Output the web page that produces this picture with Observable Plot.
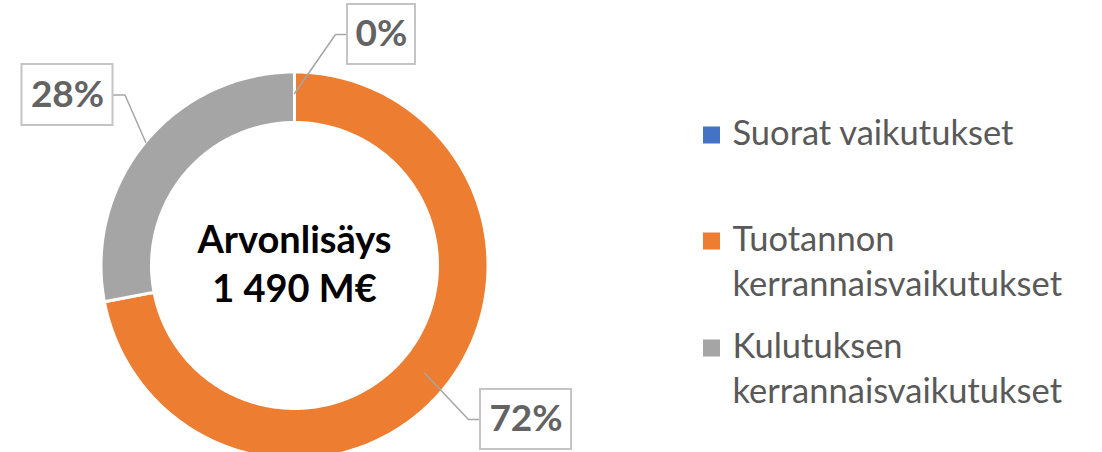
<!DOCTYPE html>
<html><head><meta charset="utf-8">
<script src="https://cdn.jsdelivr.net/npm/d3@7"></script>
<script src="https://cdn.jsdelivr.net/npm/@observablehq/plot@0.6"></script>
<style>
html,body{margin:0;padding:0;background:#fff;}
#chart{width:1102px;height:452px;overflow:hidden;}
</style></head><body><div id="chart"></div>
<script>
// ---- data ----
const categories = ["Suorat vaikutukset", "Tuotannon kerrannaisvaikutukset", "Kulutuksen kerrannaisvaikutukset"];
const legendLabels = ["Suorat vaikutukset", "Tuotannon\nkerrannaisvaikutukset", "Kulutuksen\nkerrannaisvaikutukset"];
const shares = [0, 72, 28];
const colors = ["#4472C4", "#ED7D31", "#A5A5A5"];
const centerTitle = "Arvonlisäys";
const centerValue = "1 490 M€";

// ---- layout (pixels, relative to ring centre) ----
const W = 1102, H = 452, CX = 294, CY = 265;
const R_OUT = 193.5, R_IN = 143;
const labelLayout = [
  {bx: 87, by: -231, w: 68, h: 60, r: 172, side: -1},
  {bx: 231.5, by: 154, w: 91, h: 60, r: 169, side: -1},
  {bx: -227, by: -170.5, w: 91, h: 61, r: 193, side: 1}
];
const LEG_X = 703 - CX, LEG_SQ = 17, LEG_TX = 732 - CX;
const legendRowY = [135 - CY, 241 - CY, 348 - CY];

// ---- derived geometry ----
const pie = d3.pie().sort(null).value(d => d)(shares);
const pt = (a, r) => ({x: r * Math.sin(a), y: -r * Math.cos(a)});
const ring = [];
pie.forEach((p, i) => {
  const n = Math.max(2, Math.ceil((p.endAngle - p.startAngle) * 180 / Math.PI));
  for (let k = 0; k <= n; k++) {
    const a = p.startAngle + (p.endAngle - p.startAngle) * k / n;
    ring.push({series: categories[i], ...pt(a, R_OUT)});
  }
  for (let k = n; k >= 0; k--) {
    const a = p.startAngle + (p.endAngle - p.startAngle) * k / n;
    ring.push({series: categories[i], ...pt(a, R_IN)});
  }
});

const labels = pie.map((p, i) => {
  const L = labelLayout[i];
  const mid = (p.startAngle + p.endAngle) / 2;
  const edgeX = L.bx + L.side * L.w / 2;
  return {series: categories[i], pct: shares[i], ...L, mid, edgeX,
    x1: L.bx - L.w / 2, x2: L.bx + L.w / 2, y1: L.by - L.h / 2, y2: L.by + L.h / 2};
});
const leaders = [];
labels.forEach(l => {
  const s = pt(l.mid, l.r);
  leaders.push({series: l.series, x: s.x, y: s.y});
  leaders.push({series: l.series, x: l.edgeX + l.side * 12, y: l.by});
  leaders.push({series: l.series, x: l.edgeX, y: l.by});
});

const legend = categories.map((c, i) => ({series: c, label: legendLabels[i], y: legendRowY[i]}));

const chart = Plot.plot({
  width: W, height: H, margin: 0,
  x: {domain: [-CX, W - CX], range: [0, W], axis: null},
  y: {domain: [-CY, H - CY], range: [0, H], axis: null},
  color: {domain: categories, range: colors},
  style: {fontFamily: "Lato, sans-serif", background: "white", overflow: "hidden"},
  marks: [
    Plot.line(ring, {x: "x", y: "y", z: "series", fill: "series", stroke: "white", strokeWidth: 3, curve: "linear-closed"}),
    Plot.line(leaders, {x: "x", y: "y", z: "series", stroke: "#A6A6A6", strokeWidth: 1.5}),
    Plot.rect(labels, {x1: "x1", x2: "x2", y1: "y1", y2: "y2", fill: "white", stroke: "#C4C4C4", strokeWidth: 2}),
    Plot.text(labels, {x: "bx", y: "by", text: d => d.pct + "%", fontSize: 37, fontWeight: "bold", fill: "#636363"}),
    Plot.text([centerTitle + "\n" + centerValue], {x: 0, y: -47, text: d => d, lineAnchor: "top", lineHeight: 1.29, fontSize: 38, fontWeight: "bold", fill: "#000"}),
    Plot.rect(legend, {x1: LEG_X, x2: LEG_X + LEG_SQ, y1: d => d.y - LEG_SQ / 2, y2: d => d.y + LEG_SQ / 2, fill: "series"}),
    Plot.text(legend, {x: LEG_TX, y: d => d.y - 22, text: "label", textAnchor: "start", lineAnchor: "top", lineHeight: 1.305, fontSize: 34.5, fill: "#595959"})
  ]
});
document.getElementById("chart").appendChild(chart);
</script>
</body></html>
